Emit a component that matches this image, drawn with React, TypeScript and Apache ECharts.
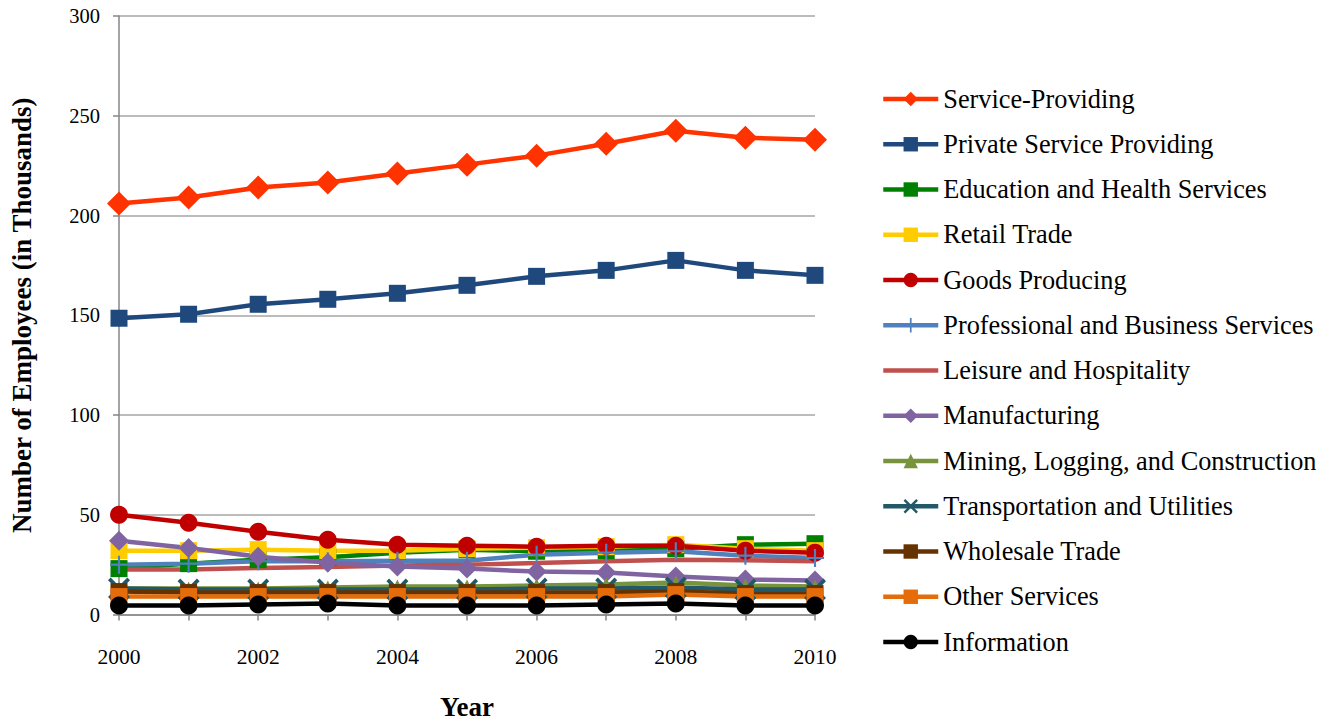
import React, { useEffect, useRef } from "react";
import * as echarts from "echarts";

const years = ["2000", "2001", "2002", "2003", "2004", "2005", "2006", "2007", "2008", "2009", "2010"];

const serviceProviding = [206, 209, 214, 216.5, 221, 225.5, 230, 236, 242.5, 239, 238];
const privateService = [148.5, 150.5, 155.5, 158, 161, 165, 169.5, 172.5, 177.5, 172.5, 170];
const eduHealth = [23, 25.5, 27.5, 28.7, 31, 32.5, 31.7, 32, 33, 35, 35.5];
const retailTrade = [32, 32, 32.5, 32, 32, 33, 33.5, 34, 35, 33, 32];
const goodsProducing = [50, 46, 41.5, 37.5, 35, 34.5, 34, 34.5, 34.5, 32, 31];
const professional = [25, 25.5, 26.7, 26.7, 27, 27, 30, 31, 31.7, 29.5, 28.3];
const leisure = [22.5, 22.5, 23.3, 23.8, 24.5, 25, 25.8, 26.7, 27.5, 27.2, 26.7];
const manufacturing = [37, 33.3, 29, 26, 24, 23, 21.5, 21, 19, 17.5, 17];
const mining = [13, 13, 13, 13.5, 14, 14, 14.5, 15, 16, 14.5, 14];
const transportation = [13, 12.5, 12.5, 12.5, 12.5, 12.5, 13, 13, 13.5, 12.5, 12.5];
const wholesale = [11.5, 11, 11, 11, 11, 11, 11, 11, 11.5, 10.5, 10.5];
const otherServices = [9, 9, 9, 9, 9, 9, 9, 9, 10, 9, 9];
const information = [4.5, 4.5, 5, 5.5, 4.5, 4.5, 4.5, 5, 5.5, 4.5, 4.5];

const yTicks = [0, 50, 100, 150, 200, 250, 300];

const PLUS = "path://M4.4,0H5.6V4.4H10V5.6H5.6V10H4.4V5.6H0V4.4H4.4Z";
const CROSS = "path://M1.2,0L5,3.8L8.8,0L10,1.2L6.2,5L10,8.8L8.8,10L5,6.2L1.2,10L0,8.8L3.8,5L0,1.2Z";

const seriesDefs = [
  { name: "Service-Providing", data: serviceProviding, color: "#FF3300", symbol: "diamond", size: 24 },
  { name: "Private Service Providing", data: privateService, color: "#1F497D", symbol: "rect", size: 17 },
  { name: "Education and Health Services", data: eduHealth, color: "#008000", symbol: "rect", size: 17 },
  { name: "Retail Trade", data: retailTrade, color: "#FFCC00", symbol: "rect", size: 17 },
  { name: "Goods Producing", data: goodsProducing, color: "#C00000", symbol: "circle", size: 18 },
  { name: "Professional and Business Services", data: professional, color: "#4F81BD", symbol: PLUS, size: 18 },
  { name: "Leisure and Hospitality", data: leisure, color: "#C0504D", symbol: "none", size: 0 },
  { name: "Manufacturing", data: manufacturing, color: "#8064A2", symbol: "diamond", size: 20 },
  { name: "Mining, Logging, and Construction", data: mining, color: "#77933C", symbol: "triangle", size: 14 },
  { name: "Transportation and Utilities", data: transportation, color: "#215968", symbol: CROSS, size: 22 },
  { name: "Wholesale Trade", data: wholesale, color: "#663300", symbol: "rect", size: 17 },
  { name: "Other Services", data: otherServices, color: "#E46C0A", symbol: "rect", size: 17 },
  { name: "Information", data: information, color: "#000000", symbol: "circle", size: 18 },
];

const FONT = "'Liberation Serif', 'Times New Roman', serif";

export default function App() {
  const ref = useRef<HTMLDivElement>(null);
  useEffect(() => {
    if (!ref.current) return;
    const chart = echarts.init(ref.current, undefined, { renderer: "svg" });
    chart.setOption({
      animation: false,
      backgroundColor: "#ffffff",
      textStyle: { fontFamily: FONT },
      grid: { left: 116, right: 523, top: 16, bottom: 110, containLabel: false },
      legend: {
        orient: "vertical",
        left: 881,
        top: 85.5,
        padding: 0,
        itemWidth: 55,
        itemHeight: 18,
        itemGap: 18.25,
        lineStyle: { width: 4.5 },
        textStyle: { fontFamily: FONT, fontSize: 26.3, color: "#000", lineHeight: 27 },
        data: seriesDefs.map((s) =>
          s.symbol === "none" ? { name: s.name, itemStyle: { opacity: 0 } } : { name: s.name }
        ),
      },
      xAxis: {
        type: "category",
        data: years,
        boundaryGap: false,
        name: "Year",
        nameLocation: "middle",
        nameGap: 78.5,
        nameTextStyle: { fontFamily: FONT, fontSize: 27, fontWeight: "bold", color: "#000" },
        axisLine: { lineStyle: { color: "#868686", width: 1.5 } },
        axisTick: { show: true, interval: 0, length: 6, lineStyle: { color: "#868686", width: 1.5 } },
        axisLabel: { interval: 1, fontFamily: FONT, fontSize: 21.5, color: "#000", margin: 31 },
        splitLine: { show: false },
      },
      yAxis: {
        type: "value",
        min: yTicks[0],
        max: yTicks[yTicks.length - 1],
        interval: 50,
        name: "Number of Employees (in Thousands)",
        nameLocation: "middle",
        nameGap: 84,
        nameTextStyle: { fontFamily: FONT, fontSize: 27, fontWeight: "bold", color: "#000" },
        axisLine: { show: true, lineStyle: { color: "#868686", width: 1.5 } },
        axisTick: { show: true, length: 6, lineStyle: { color: "#868686", width: 1.5 } },
        axisLabel: { fontFamily: FONT, fontSize: 20.5, color: "#000", margin: 19 },
        splitLine: { show: true, lineStyle: { color: "#A6A6A6", width: 1.5 } },
      },
      series: seriesDefs.map((s) => ({
        name: s.name,
        type: "line",
        data: s.data,
        symbol: s.symbol,
        symbolSize: s.size,
        showSymbol: s.symbol !== "none",
        color: s.color,
        lineStyle: { color: s.color, width: 4.5 },
        itemStyle: { color: s.color },
        emphasis: { disabled: true },
      })),
    });
    return () => chart.dispose();
  }, []);
  return <div ref={ref} style={{ position: "fixed", left: 0, top: 0, width: 1338, height: 725 }} />;
}
